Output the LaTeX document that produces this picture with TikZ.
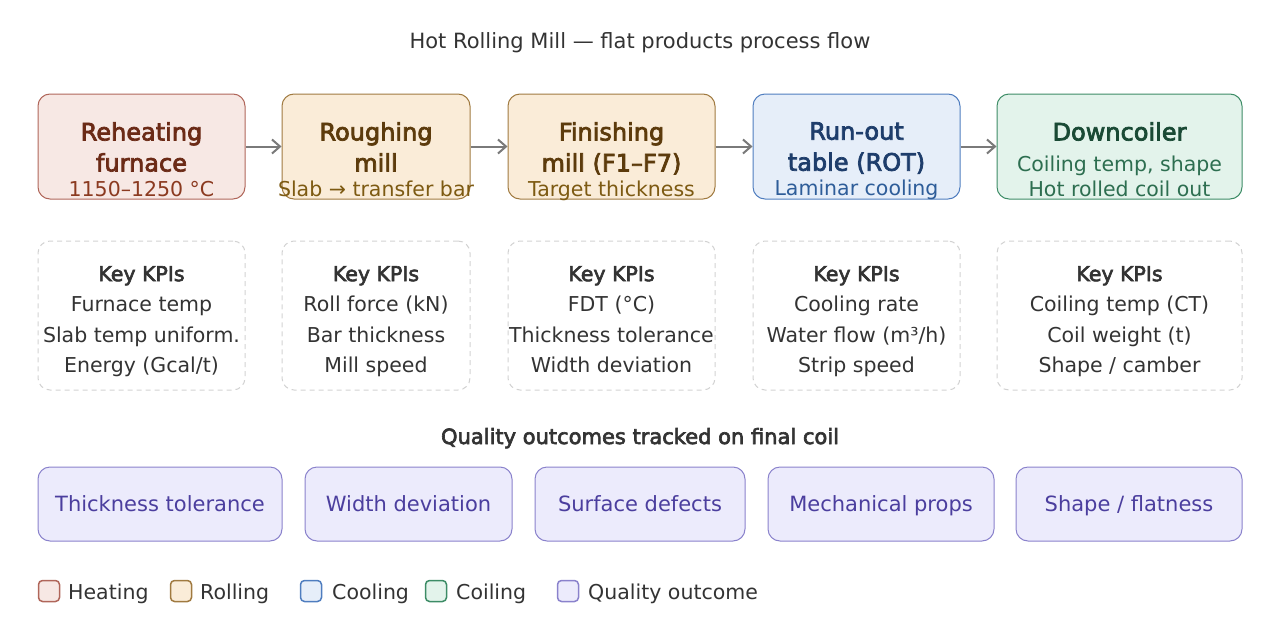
\documentclass[tikz,border=0pt]{standalone}
\usepackage{fontspec}
\setmainfont{DejaVu Sans}
\newfontfamily\medfont[FakeBold=3]{DejaVu Sans}
\usetikzlibrary{arrows.meta}

\definecolor{ink}{HTML}{333333}
\definecolor{kpiline}{HTML}{D2D2D2}
\definecolor{arrowgray}{HTML}{7A7A7A}
\definecolor{heatfill}{HTML}{F7E8E4}
\definecolor{heatline}{HTML}{B0665A}
\definecolor{heattxt}{HTML}{6B2A16}
\definecolor{heatsub}{HTML}{8B3A20}
\definecolor{rollfill}{HTML}{FAECD8}
\definecolor{rollline}{HTML}{A07A40}
\definecolor{rolltxt}{HTML}{5C3B0C}
\definecolor{rollsub}{HTML}{7D5A12}
\definecolor{coolfill}{HTML}{E6EEF9}
\definecolor{coolline}{HTML}{4F7DBF}
\definecolor{cooltxt}{HTML}{1E3D6B}
\definecolor{coolsub}{HTML}{2E5D99}
\definecolor{coilfill}{HTML}{E3F3EB}
\definecolor{coilline}{HTML}{3D8C66}
\definecolor{coiltxt}{HTML}{1A4A35}
\definecolor{coilsub}{HTML}{2D6E50}
\definecolor{qualfill}{HTML}{ECEBFC}
\definecolor{qualline}{HTML}{8A82CC}
\definecolor{qualtxt}{HTML}{4B3E9E}

\newcommand\subtxt{\normalfont\fontsize{20.5}{31}\selectfont}

\begin{document}
\begin{tikzpicture}[x=1pt,y=-1pt]
  % styles
  \tikzset{
    stage/.style={rectangle, rounded corners=12pt, line width=1pt, minimum height=105pt, inner sep=0pt},
    stagetxt/.style={align=center, anchor=north, inner sep=0pt, font=\medfont\fontsize{24}{31}\selectfont},
    kpi/.style={rectangle, rounded corners=12pt, draw=kpiline, dash pattern=on 5pt off 4pt, line width=1pt, minimum height=149pt, inner sep=0pt},
    kpitxt/.style={align=center, anchor=north, inner sep=0pt, text=ink, font=\fontsize{20.5}{30.5}\selectfont},
    qual/.style={rectangle, rounded corners=12pt, draw=qualline, fill=qualfill, text=qualtxt, line width=1pt, minimum height=74pt, inner sep=0pt, text height=15pt, text depth=0pt, font=\fontsize{21}{25}\selectfont},
    flow/.style={draw=arrowgray, line width=2pt, -{Straight Barb[length=8pt,width=14pt]}},
    swatch/.style={rectangle, rounded corners=4pt, line width=1.5pt, minimum size=21pt, inner sep=0pt},
    legtxt/.style={anchor=base west, inner sep=0pt, text=ink, font=\fontsize{20.5}{25}\selectfont}
  }

  \useasboundingbox (0,0) rectangle (1280,640);

  % title
  \node[anchor=base, inner sep=0pt, text=ink, font=\fontsize{21}{25}\selectfont] (title) at (640,48) {Hot Rolling Mill — flat products process flow};

  % process stages
  \node[stage, fill=heatfill, draw=heatline, minimum width=207pt] (reheat) at (141.5,146.5) {};
  \node[stage, fill=rollfill, draw=rollline, minimum width=188pt] (rough) at (376,146.5) {};
  \node[stage, fill=rollfill, draw=rollline, minimum width=207pt] (finish) at (611.5,146.5) {};
  \node[stage, fill=coolfill, draw=coolline, minimum width=207pt] (rot) at (856.5,146.5) {};
  \node[stage, fill=coilfill, draw=coilline, minimum width=245pt] (coiler) at (1119.5,146.5) {};

  \node[stagetxt, text=heattxt] (reheat-t) at (141.5,122) {Reheating\\furnace\\[-6pt]{\subtxt\color{heatsub}1150–1250 °C}};
  \node[stagetxt, text=rolltxt] (rough-t) at (376,122) {Roughing\\mill\\[-6pt]{\subtxt\color{rollsub}Slab → transfer bar}};
  \node[stagetxt, text=rolltxt] (finish-t) at (611.5,122) {Finishing\\mill (F1–F7)\\[-6pt]{\subtxt\color{rollsub}Target thickness}};
  \node[stagetxt, text=cooltxt] (rot-t) at (856.5,122) {Run-out\\table (ROT)\\[-6pt]{\subtxt\color{coolsub}Laminar cooling}};
  \node[stagetxt, text=coiltxt] (coiler-t) at (1119.5,122) {Downcoiler\\{\subtxt\color{coilsub}Coiling temp, shape}\\[-6pt]{\subtxt\color{coilsub}Hot rolled coil out}};

  % flow arrows
  \draw[flow] (reheat.east) -- (rough.west);
  \draw[flow] (rough.east) -- (finish.west);
  \draw[flow] (finish.east) -- (rot.west);
  \draw[flow] (rot.east) -- (coiler.west);

  % KPI boxes
  \node[kpi, minimum width=207pt] (reheat-k) at (141.5,315.5) {};
  \node[kpi, minimum width=188pt] (rough-k) at (376,315.5) {};
  \node[kpi, minimum width=207pt] (finish-k) at (611.5,315.5) {};
  \node[kpi, minimum width=207pt] (rot-k) at (856.5,315.5) {};
  \node[kpi, minimum width=245pt] (coiler-k) at (1119.5,315.5) {};

  \node[kpitxt] (reheat-kt) at (141.5,266) {{\medfont Key KPIs}\\Furnace temp\\Slab temp uniform.\\Energy (Gcal/t)};
  \node[kpitxt] (rough-kt) at (376,266) {{\medfont Key KPIs}\\Roll force (kN)\\Bar thickness\\Mill speed};
  \node[kpitxt] (finish-kt) at (611.5,266) {{\medfont Key KPIs}\\FDT (°C)\\Thickness tolerance\\Width deviation};
  \node[kpitxt] (rot-kt) at (856.5,266) {{\medfont Key KPIs}\\Cooling rate\\Water flow (m³/h)\\Strip speed};
  \node[kpitxt] (coiler-kt) at (1119.5,266) {{\medfont Key KPIs}\\Coiling temp (CT)\\Coil weight (t)\\Shape / camber};

  % quality outcomes
  \node[anchor=base, inner sep=0pt, text=ink, font=\medfont\fontsize{21}{25}\selectfont] (qhead) at (640,444) {Quality outcomes tracked on final coil};

  \node[qual, minimum width=244pt] (qthick) at (160,504) {Thickness tolerance};
  \node[qual, minimum width=207pt] (qwidth) at (408.5,504) {Width deviation};
  \node[qual, minimum width=210pt] (qsurf) at (640,504) {Surface defects};
  \node[qual, minimum width=226pt] (qmech) at (881,504) {Mechanical props};
  \node[qual, minimum width=226pt] (qshape) at (1129,504) {Shape / flatness};

  % legend
  \node[swatch, fill=heatfill, draw=heatline] (lheat) at (49,591) {};
  \node[legtxt] (lheat-t) at (68,599) {Heating};
  \node[swatch, fill=rollfill, draw=rollline] (lroll) at (181,591) {};
  \node[legtxt] (lroll-t) at (200,599) {Rolling};
  \node[swatch, fill=coolfill, draw=coolline] (lcool) at (311,591) {};
  \node[legtxt] (lcool-t) at (332,599) {Cooling};
  \node[swatch, fill=coilfill, draw=coilline] (lcoil) at (436,591) {};
  \node[legtxt] (lcoil-t) at (456,599) {Coiling};
  \node[swatch, fill=qualfill, draw=qualline] (lqual) at (568,591) {};
  \node[legtxt] (lqual-t) at (588,599) {Quality outcome};
\end{tikzpicture}
\end{document}
